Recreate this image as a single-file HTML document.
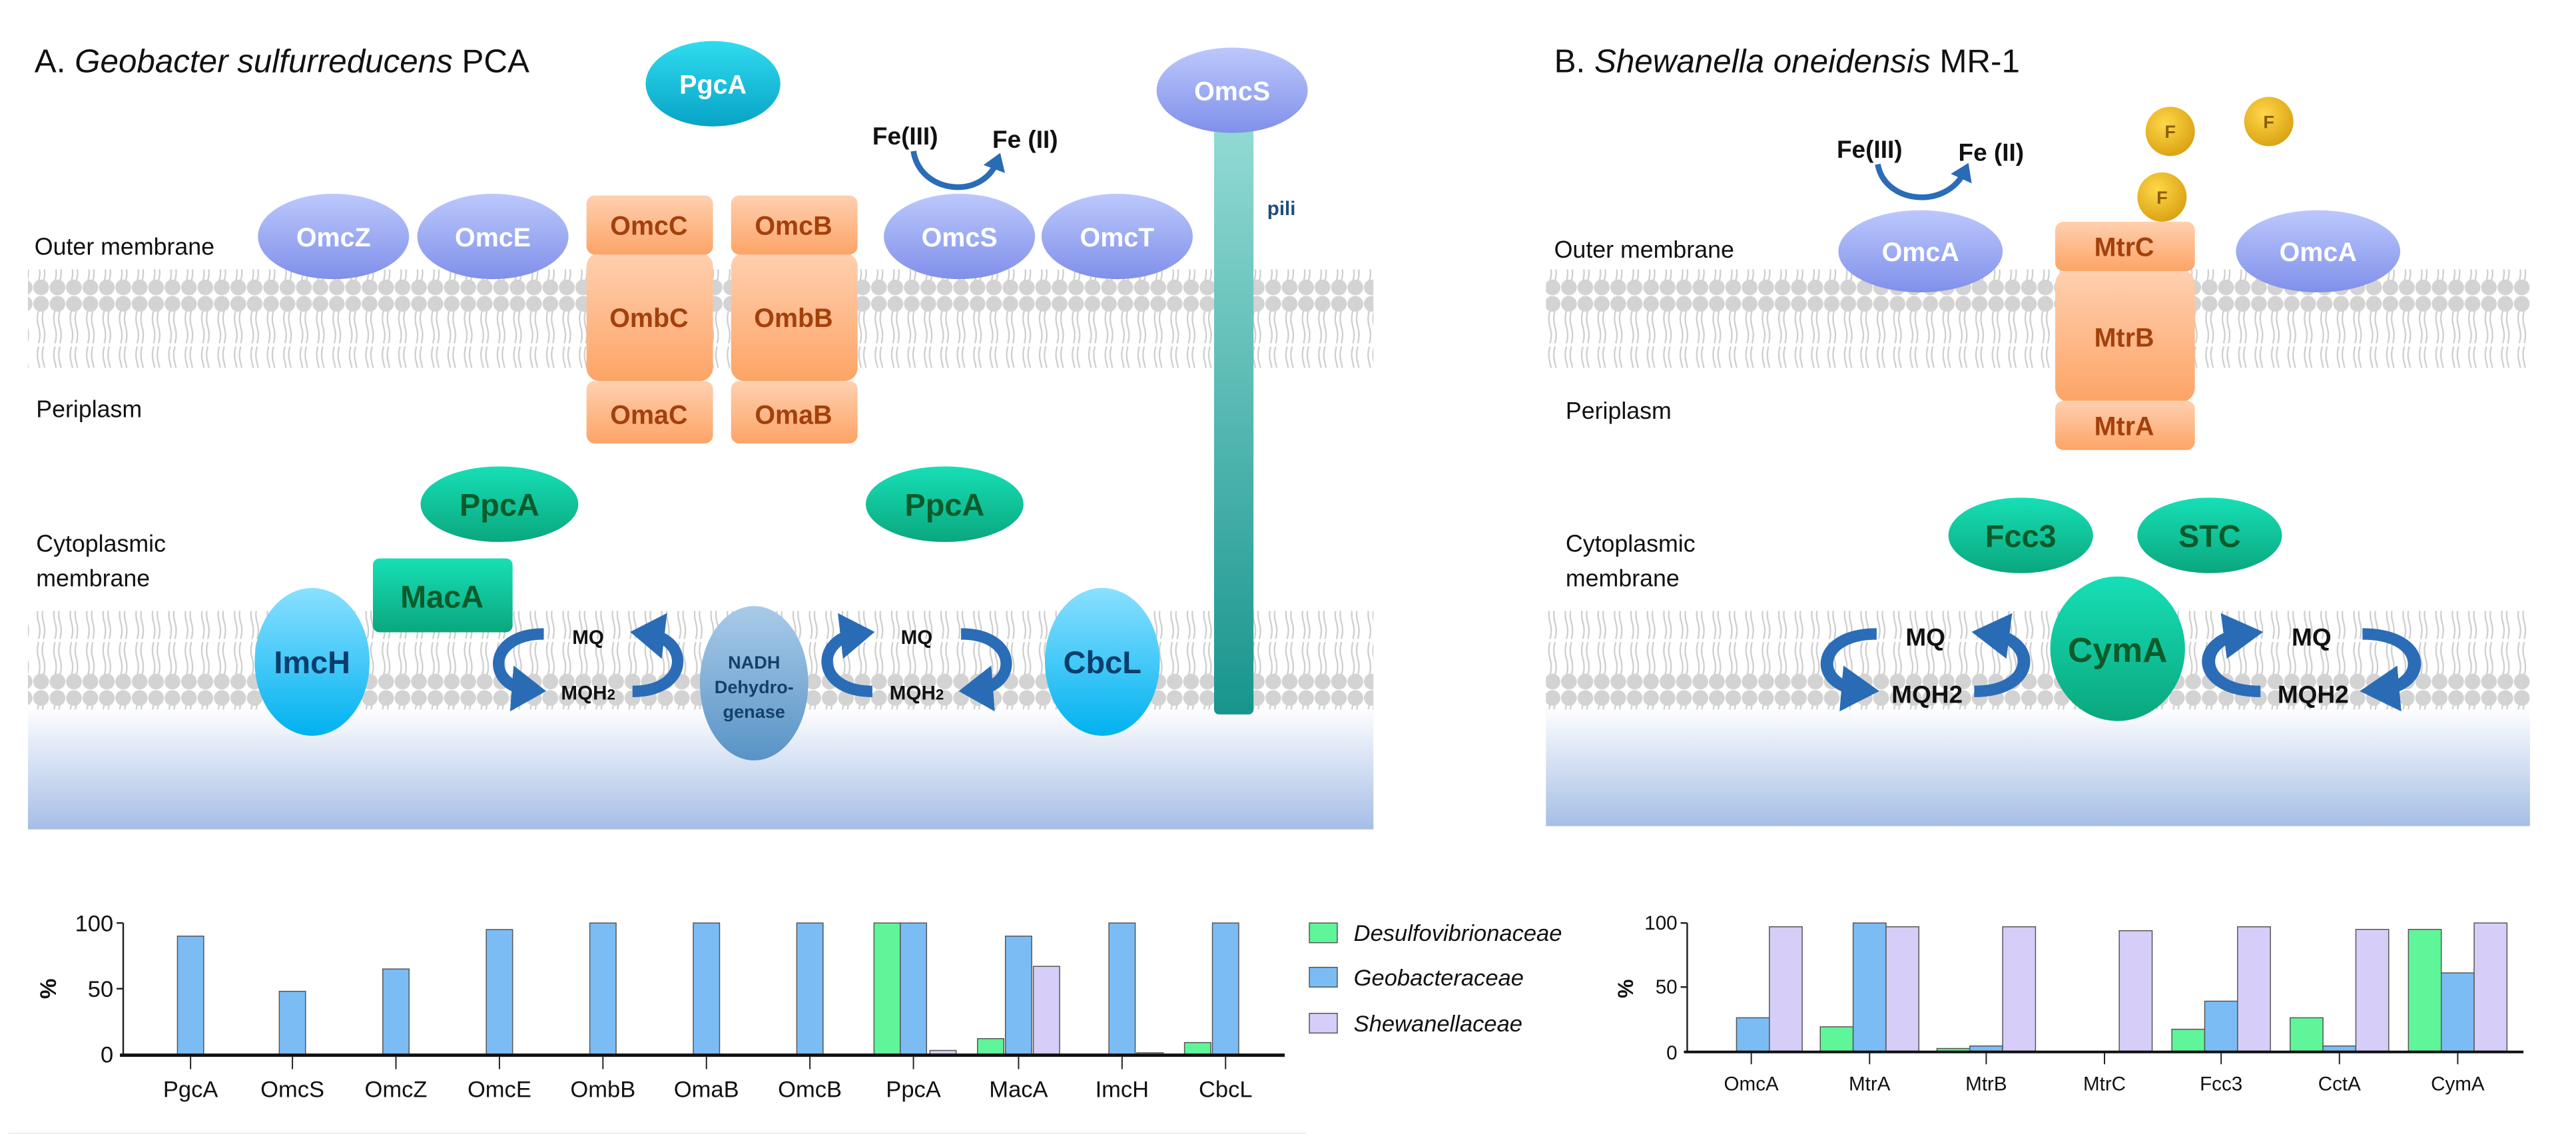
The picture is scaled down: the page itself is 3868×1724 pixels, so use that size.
<!DOCTYPE html>
<html><head><meta charset="utf-8"><style>
html,body{margin:0;padding:0;background:#fff}
svg{display:block}
text{font-family:"Liberation Sans Narrow","Liberation Sans",sans-serif}
</style></head><body>
<svg width="3868" height="1724" viewBox="0 0 1568 699" preserveAspectRatio="none" xmlns="http://www.w3.org/2000/svg">
<defs>
<linearGradient id="cyto" x1="0" y1="0" x2="0" y2="1"><stop offset="0" stop-color="#ffffff"/><stop offset="1" stop-color="#a6bee6"/></linearGradient>
<linearGradient id="pur" x1="0" y1="0" x2="0" y2="1"><stop offset="0" stop-color="#bcc8fc"/><stop offset="1" stop-color="#8090ea"/></linearGradient>
<linearGradient id="cyan" x1="0" y1="0" x2="0" y2="1"><stop offset="0" stop-color="#30dcef"/><stop offset="1" stop-color="#07a3c6"/></linearGradient>
<linearGradient id="grn" x1="0" y1="0" x2="0" y2="1"><stop offset="0" stop-color="#17dfb6"/><stop offset="1" stop-color="#0aa77e"/></linearGradient>
<linearGradient id="lcy" x1="0" y1="0" x2="0" y2="1"><stop offset="0" stop-color="#8ae0ff"/><stop offset="1" stop-color="#00b2f0"/></linearGradient>
<linearGradient id="nadh" x1="0" y1="0" x2="0" y2="1"><stop offset="0" stop-color="#a9cbe9"/><stop offset="1" stop-color="#5893c6"/></linearGradient>
<linearGradient id="org" x1="0" y1="0" x2="0" y2="1"><stop offset="0" stop-color="#ffd0b0"/><stop offset="1" stop-color="#fda466"/></linearGradient>
<linearGradient id="pili" x1="0" y1="0" x2="0" y2="1"><stop offset="0" stop-color="#92dad4"/><stop offset="1" stop-color="#17958d"/></linearGradient>
<radialGradient id="gold" cx="0.4" cy="0.35" r="0.7"><stop offset="0" stop-color="#ffd84a"/><stop offset="1" stop-color="#d9a010"/></radialGradient>
<pattern id="lip" x="0" y="0" width="10" height="60" patternUnits="userSpaceOnUse">
<path d="M3.5,9 q-1.5,5 0,10 q1.5,5 0,10 M6.5,9 q-1.5,5 0,10 q1.5,5 0,10 M3.5,31 q-1.5,5 0,10 q1.5,5 0,10 M6.5,31 q-1.5,5 0,10 q1.5,5 0,10" stroke="#cdcdcd" stroke-width="0.9" fill="none"/>
<circle cx="5" cy="5" r="4.8" fill="#d3d3d3"/>
<circle cx="5" cy="55" r="4.8" fill="#d3d3d3"/>
</pattern>
<marker id="ah" markerWidth="4" markerHeight="4" refX="1.5" refY="2" orient="auto"><path d="M0,0 L3,2 L0,4 z" fill="#2a6bb5"/></marker>
<g id="cyc">
<path d="M-27,-17 C-62,-17 -62,15 -36,17" stroke="#2b6cb6" stroke-width="7" fill="none" marker-end="url(#ah)"/>
<path d="M27,18 C62,18 62,-14 36,-17" stroke="#2b6cb6" stroke-width="7" fill="none" marker-end="url(#ah)"/>
</g>
</defs>

<rect x="17" y="430" width="819" height="75" fill="url(#cyto)"/>
<rect x="17" y="164" width="819" height="60" fill="url(#lip)"/>
<rect x="17" y="372" width="819" height="60" fill="url(#lip)"/>
<rect x="941" y="430" width="599" height="73" fill="url(#cyto)"/>
<rect x="941" y="164" width="599" height="60" fill="url(#lip)"/>
<rect x="941" y="372" width="599" height="60" fill="url(#lip)"/>

<!-- Panel A -->
<text x="21" y="44" font-size="20" fill="#111"><tspan>A.</tspan> <tspan font-style="italic">Geobacter sulfurreducens</tspan> PCA</text>
<text x="21" y="155" font-size="14.5" fill="#111">Outer membrane</text>
<text x="22" y="254" font-size="14.5" fill="#111">Periplasm</text>
<text x="22" y="336" font-size="14.5" fill="#111">Cytoplasmic</text>
<text x="22" y="357" font-size="14.5" fill="#111">membrane</text>

<rect x="739" y="78" width="24" height="357" rx="3" fill="url(#pili)"/>
<text x="780" y="131" font-size="12" font-weight="bold" fill="#1f4e79" text-anchor="middle">pili</text>
<ellipse cx="750" cy="55" rx="46" ry="26" fill="url(#pur)"/>
<text x="750" y="61" font-size="16" font-weight="bold" fill="#fff" text-anchor="middle">OmcS</text>

<ellipse cx="434" cy="51" rx="41" ry="26" fill="url(#cyan)"/>
<text x="434" y="57" font-size="16" font-weight="bold" fill="#fff" text-anchor="middle">PgcA</text>

<ellipse cx="203" cy="144" rx="46" ry="26" fill="url(#pur)"/>
<text x="203" y="150" font-size="16" font-weight="bold" fill="#fff" text-anchor="middle">OmcZ</text>
<ellipse cx="300" cy="144" rx="46" ry="26" fill="url(#pur)"/>
<text x="300" y="150" font-size="16" font-weight="bold" fill="#fff" text-anchor="middle">OmcE</text>
<ellipse cx="584" cy="144" rx="46" ry="26" fill="url(#pur)"/>
<text x="584" y="150" font-size="16" font-weight="bold" fill="#fff" text-anchor="middle">OmcS</text>
<ellipse cx="680" cy="144" rx="46" ry="26" fill="url(#pur)"/>
<text x="680" y="150" font-size="16" font-weight="bold" fill="#fff" text-anchor="middle">OmcT</text>

<g font-size="16" font-weight="bold" fill="#a3400c" text-anchor="middle">
<rect x="357" y="154" width="77" height="78" rx="8" fill="url(#org)"/>
<rect x="357" y="119" width="77" height="36" rx="5" fill="url(#org)"/>
<rect x="357" y="232" width="77" height="38" rx="5" fill="url(#org)"/>
<rect x="445" y="154" width="77" height="78" rx="8" fill="url(#org)"/>
<rect x="445" y="119" width="77" height="36" rx="5" fill="url(#org)"/>
<rect x="445" y="232" width="77" height="38" rx="5" fill="url(#org)"/>
<text x="395" y="143">OmcC</text><text x="483" y="143">OmcB</text>
<text x="395" y="199">OmbC</text><text x="483" y="199">OmbB</text>
<text x="395" y="258">OmaC</text><text x="483" y="258">OmaB</text>
</g>

<text x="551" y="88" font-size="15" font-weight="bold" fill="#111" text-anchor="middle">Fe(III)</text>
<text x="624" y="90" font-size="15" font-weight="bold" fill="#111" text-anchor="middle">Fe (II)</text>
<path d="M556,92 C560,118 598,122 607,98" stroke="#2b6cb6" stroke-width="3.5" fill="none" marker-end="url(#ah)"/>

<ellipse cx="304" cy="307" rx="48" ry="23" fill="url(#grn)"/>
<text x="304" y="314" font-size="19" font-weight="bold" fill="#0d5a2a" text-anchor="middle">PpcA</text>
<ellipse cx="575" cy="307" rx="48" ry="23" fill="url(#grn)"/>
<text x="575" y="314" font-size="19" font-weight="bold" fill="#0d5a2a" text-anchor="middle">PpcA</text>

<rect x="227" y="340" width="85" height="45" rx="4" fill="url(#grn)"/>
<text x="269" y="370" font-size="19" font-weight="bold" fill="#0d5a2a" text-anchor="middle">MacA</text>

<ellipse cx="190" cy="403" rx="35" ry="45" fill="url(#lcy)"/>
<text x="190" y="410" font-size="19" font-weight="bold" fill="#0b3d6b" text-anchor="middle">ImcH</text>
<ellipse cx="671" cy="403" rx="35" ry="45" fill="url(#lcy)"/>
<text x="671" y="410" font-size="19" font-weight="bold" fill="#0b3d6b" text-anchor="middle">CbcL</text>
<ellipse cx="459" cy="416" rx="33" ry="47" fill="url(#nadh)"/>
<g font-size="11" font-weight="bold" fill="#14406b" text-anchor="middle">
<text x="459" y="407">NADH</text><text x="459" y="422">Dehydro-</text><text x="459" y="437">genase</text></g>

<use href="#cyc" transform="translate(358,403)"/>
<use href="#cyc" transform="translate(558,403) scale(-1,1)"/>
<g font-size="12" font-weight="bold" fill="#111" text-anchor="middle">
<text x="358" y="392">MQ</text><text x="358" y="426">MQH<tspan font-size="9">2</tspan></text>
<text x="558" y="392">MQ</text><text x="558" y="426">MQH<tspan font-size="9">2</tspan></text>
</g>

<!-- Panel B -->
<text x="946" y="44" font-size="20" fill="#111"><tspan>B.</tspan> <tspan font-style="italic">Shewanella oneidensis</tspan> MR-1</text>
<text x="946" y="157" font-size="14.5" fill="#111">Outer membrane</text>
<text x="953" y="255" font-size="14.5" fill="#111">Periplasm</text>
<text x="953" y="336" font-size="14.5" fill="#111">Cytoplasmic</text>
<text x="953" y="357" font-size="14.5" fill="#111">membrane</text>

<text x="1138" y="96" font-size="15" font-weight="bold" fill="#111" text-anchor="middle">Fe(III)</text>
<text x="1212" y="98" font-size="15" font-weight="bold" fill="#111" text-anchor="middle">Fe (II)</text>
<path d="M1143,100 C1147,124 1185,128 1196,104" stroke="#2b6cb6" stroke-width="3.5" fill="none" marker-end="url(#ah)"/>

<ellipse cx="1169" cy="153" rx="50" ry="25" fill="url(#pur)"/>
<text x="1169" y="159" font-size="16" font-weight="bold" fill="#fff" text-anchor="middle">OmcA</text>
<ellipse cx="1411" cy="153" rx="50" ry="25" fill="url(#pur)"/>
<text x="1411" y="159" font-size="16" font-weight="bold" fill="#fff" text-anchor="middle">OmcA</text>

<g font-size="16" font-weight="bold" fill="#a3400c" text-anchor="middle">
<rect x="1251" y="164" width="85" height="81" rx="9" fill="url(#org)"/>
<rect x="1251" y="135" width="85" height="30" rx="5" fill="url(#org)"/>
<rect x="1251" y="244" width="85" height="30" rx="5" fill="url(#org)"/>
<text x="1293" y="156">MtrC</text><text x="1293" y="211">MtrB</text><text x="1293" y="265">MtrA</text>
</g>

<g font-size="11" font-weight="bold" fill="#8a6000" text-anchor="middle">
<circle cx="1321" cy="80" r="15" fill="url(#gold)"/><text x="1321" y="84">F</text>
<circle cx="1381" cy="74" r="15" fill="url(#gold)"/><text x="1381" y="78">F</text>
<circle cx="1316" cy="120" r="15" fill="url(#gold)"/><text x="1316" y="124">F</text>
</g>

<ellipse cx="1230" cy="326" rx="44" ry="23" fill="url(#grn)"/>
<text x="1230" y="333" font-size="19" font-weight="bold" fill="#0d5a2a" text-anchor="middle">Fcc3</text>
<ellipse cx="1345" cy="326" rx="44" ry="23" fill="url(#grn)"/>
<text x="1345" y="333" font-size="19" font-weight="bold" fill="#0d5a2a" text-anchor="middle">STC</text>
<ellipse cx="1289" cy="395" rx="41" ry="44" fill="url(#grn)"/>
<text x="1289" y="403" font-size="21" font-weight="bold" fill="#0d5a2a" text-anchor="middle">CymA</text>

<use href="#cyc" transform="translate(1172,403) scale(1.1,1)"/>
<use href="#cyc" transform="translate(1407,403) scale(-1.15,1)"/>
<g font-size="15" font-weight="bold" fill="#111" text-anchor="middle">
<text x="1172" y="393">MQ</text><text x="1173" y="428">MQH2</text>
<text x="1407" y="393">MQ</text><text x="1408" y="428">MQH2</text>
</g>

<!-- Chart A -->
<line x1="75" y1="562" x2="75" y2="642" stroke="#222" stroke-width="1"/>
<line x1="71" y1="562" x2="75" y2="562" stroke="#222"/><line x1="71" y1="602" x2="75" y2="602" stroke="#222"/>
<g font-size="14" fill="#111" text-anchor="end"><text x="69" y="567">100</text><text x="69" y="607">50</text><text x="69" y="647">0</text></g>
<text transform="translate(34,602) rotate(-90)" font-size="14" font-weight="bold" text-anchor="middle" fill="#111">%</text>
<g stroke="#555" stroke-width="0.6">
<rect x="108" y="570" width="16" height="72" fill="#7bbcf5"/>
<rect x="170" y="603.6" width="16" height="38.4" fill="#7bbcf5"/>
<rect x="233" y="590" width="16" height="52" fill="#7bbcf5"/>
<rect x="296" y="566" width="16" height="76" fill="#7bbcf5"/>
<rect x="359" y="562" width="16" height="80" fill="#7bbcf5"/>
<rect x="422" y="562" width="16" height="80" fill="#7bbcf5"/>
<rect x="485" y="562" width="16" height="80" fill="#7bbcf5"/>
<rect x="532" y="562" width="16" height="80" fill="#5ff599"/>
<rect x="548" y="562" width="16" height="80" fill="#7bbcf5"/>
<rect x="566" y="639.6" width="16" height="2.4" fill="#d6cdf8"/>
<rect x="595" y="632.4" width="16" height="9.6" fill="#5ff599"/>
<rect x="612" y="570" width="16" height="72" fill="#7bbcf5"/>
<rect x="629" y="588.4" width="16" height="53.6" fill="#d6cdf8"/>
<rect x="675" y="562" width="16" height="80" fill="#7bbcf5"/>
<rect x="692" y="641" width="16" height="1" fill="#d6cdf8"/>
<rect x="721" y="634.8" width="16" height="7.2" fill="#5ff599"/>
<rect x="738" y="562" width="16" height="80" fill="#7bbcf5"/>
</g>
<line x1="73" y1="642.5" x2="782" y2="642.5" stroke="#111" stroke-width="2"/>
<g stroke="#222" stroke-width="0.8">
<line x1="116" y1="643" x2="116" y2="651"/><line x1="178" y1="643" x2="178" y2="651"/><line x1="241" y1="643" x2="241" y2="651"/><line x1="304" y1="643" x2="304" y2="651"/><line x1="367" y1="643" x2="367" y2="651"/><line x1="430" y1="643" x2="430" y2="651"/><line x1="493" y1="643" x2="493" y2="651"/><line x1="556" y1="643" x2="556" y2="651"/><line x1="620" y1="643" x2="620" y2="651"/><line x1="683" y1="643" x2="683" y2="651"/><line x1="746" y1="643" x2="746" y2="651"/>
</g>
<g font-size="14" fill="#111" text-anchor="middle">
<text x="116" y="668">PgcA</text><text x="178" y="668">OmcS</text><text x="241" y="668">OmcZ</text><text x="304" y="668">OmcE</text><text x="367" y="668">OmbB</text><text x="430" y="668">OmaB</text><text x="493" y="668">OmcB</text><text x="556" y="668">PpcA</text><text x="620" y="668">MacA</text><text x="683" y="668">ImcH</text><text x="746" y="668">CbcL</text>
</g>
<rect x="797" y="562" width="17" height="12" fill="#5ff599" stroke="#555" stroke-width="0.6"/>
<rect x="797" y="589" width="17" height="12" fill="#7bbcf5" stroke="#555" stroke-width="0.6"/>
<rect x="797" y="617" width="17" height="12" fill="#d6cdf8" stroke="#555" stroke-width="0.6"/>
<g font-size="14" font-style="italic" fill="#111"><text x="824" y="573">Desulfovibrionaceae</text><text x="824" y="600">Geobacteraceae</text><text x="824" y="628">Shewanellaceae</text></g>

<!-- Chart B -->
<line x1="1027" y1="562" x2="1027" y2="640" stroke="#222"/>
<line x1="1023" y1="562" x2="1027" y2="562" stroke="#222"/><line x1="1023" y1="601" x2="1027" y2="601" stroke="#222"/>
<g font-size="12" fill="#111" text-anchor="end"><text x="1021" y="566">100</text><text x="1021" y="605">50</text><text x="1021" y="645">0</text></g>
<text transform="translate(994,602) rotate(-90)" font-size="13" font-weight="bold" text-anchor="middle" fill="#111">%</text>
<g stroke="#555" stroke-width="0.6">
<rect x="1057" y="619.7" width="20" height="20.3" fill="#7bbcf5"/>
<rect x="1077" y="564.3" width="20" height="75.7" fill="#d6cdf8"/>
<rect x="1108" y="625.2" width="20" height="14.8" fill="#5ff599"/>
<rect x="1128" y="562" width="20" height="78" fill="#7bbcf5"/>
<rect x="1148" y="564.3" width="20" height="75.7" fill="#d6cdf8"/>
<rect x="1179" y="638.4" width="20" height="1.6" fill="#5ff599"/>
<rect x="1199" y="636.9" width="20" height="3.1" fill="#7bbcf5"/>
<rect x="1219" y="564.3" width="20" height="75.7" fill="#d6cdf8"/>
<rect x="1290" y="566.7" width="20" height="73.3" fill="#d6cdf8"/>
<rect x="1322" y="626.7" width="20" height="13.3" fill="#5ff599"/>
<rect x="1342" y="609.6" width="20" height="30.4" fill="#7bbcf5"/>
<rect x="1362" y="564.3" width="20" height="75.7" fill="#d6cdf8"/>
<rect x="1394" y="619.7" width="20" height="20.3" fill="#5ff599"/>
<rect x="1414" y="636.9" width="20" height="3.1" fill="#7bbcf5"/>
<rect x="1434" y="565.9" width="20" height="74.1" fill="#d6cdf8"/>
<rect x="1466" y="565.9" width="20" height="74.1" fill="#5ff599"/>
<rect x="1486" y="592.4" width="20" height="47.6" fill="#7bbcf5"/>
<rect x="1506" y="562" width="20" height="78" fill="#d6cdf8"/>
</g>
<line x1="1025" y1="640.5" x2="1536" y2="640.5" stroke="#111" stroke-width="1.6"/>
<g stroke="#222" stroke-width="0.8">
<line x1="1066" y1="641" x2="1066" y2="648"/><line x1="1138" y1="641" x2="1138" y2="648"/><line x1="1209" y1="641" x2="1209" y2="648"/><line x1="1281" y1="641" x2="1281" y2="648"/><line x1="1352" y1="641" x2="1352" y2="648"/><line x1="1424" y1="641" x2="1424" y2="648"/><line x1="1496" y1="641" x2="1496" y2="648"/>
</g>
<g font-size="12" fill="#111" text-anchor="middle">
<text x="1066" y="664">OmcA</text><text x="1138" y="664">MtrA</text><text x="1209" y="664">MtrB</text><text x="1281" y="664">MtrC</text><text x="1352" y="664">Fcc3</text><text x="1424" y="664">CctA</text><text x="1496" y="664">CymA</text>
</g>
<line x1="5" y1="690" x2="795" y2="690" stroke="#f0f0f0" stroke-width="1"/>
</svg>
</body></html>
